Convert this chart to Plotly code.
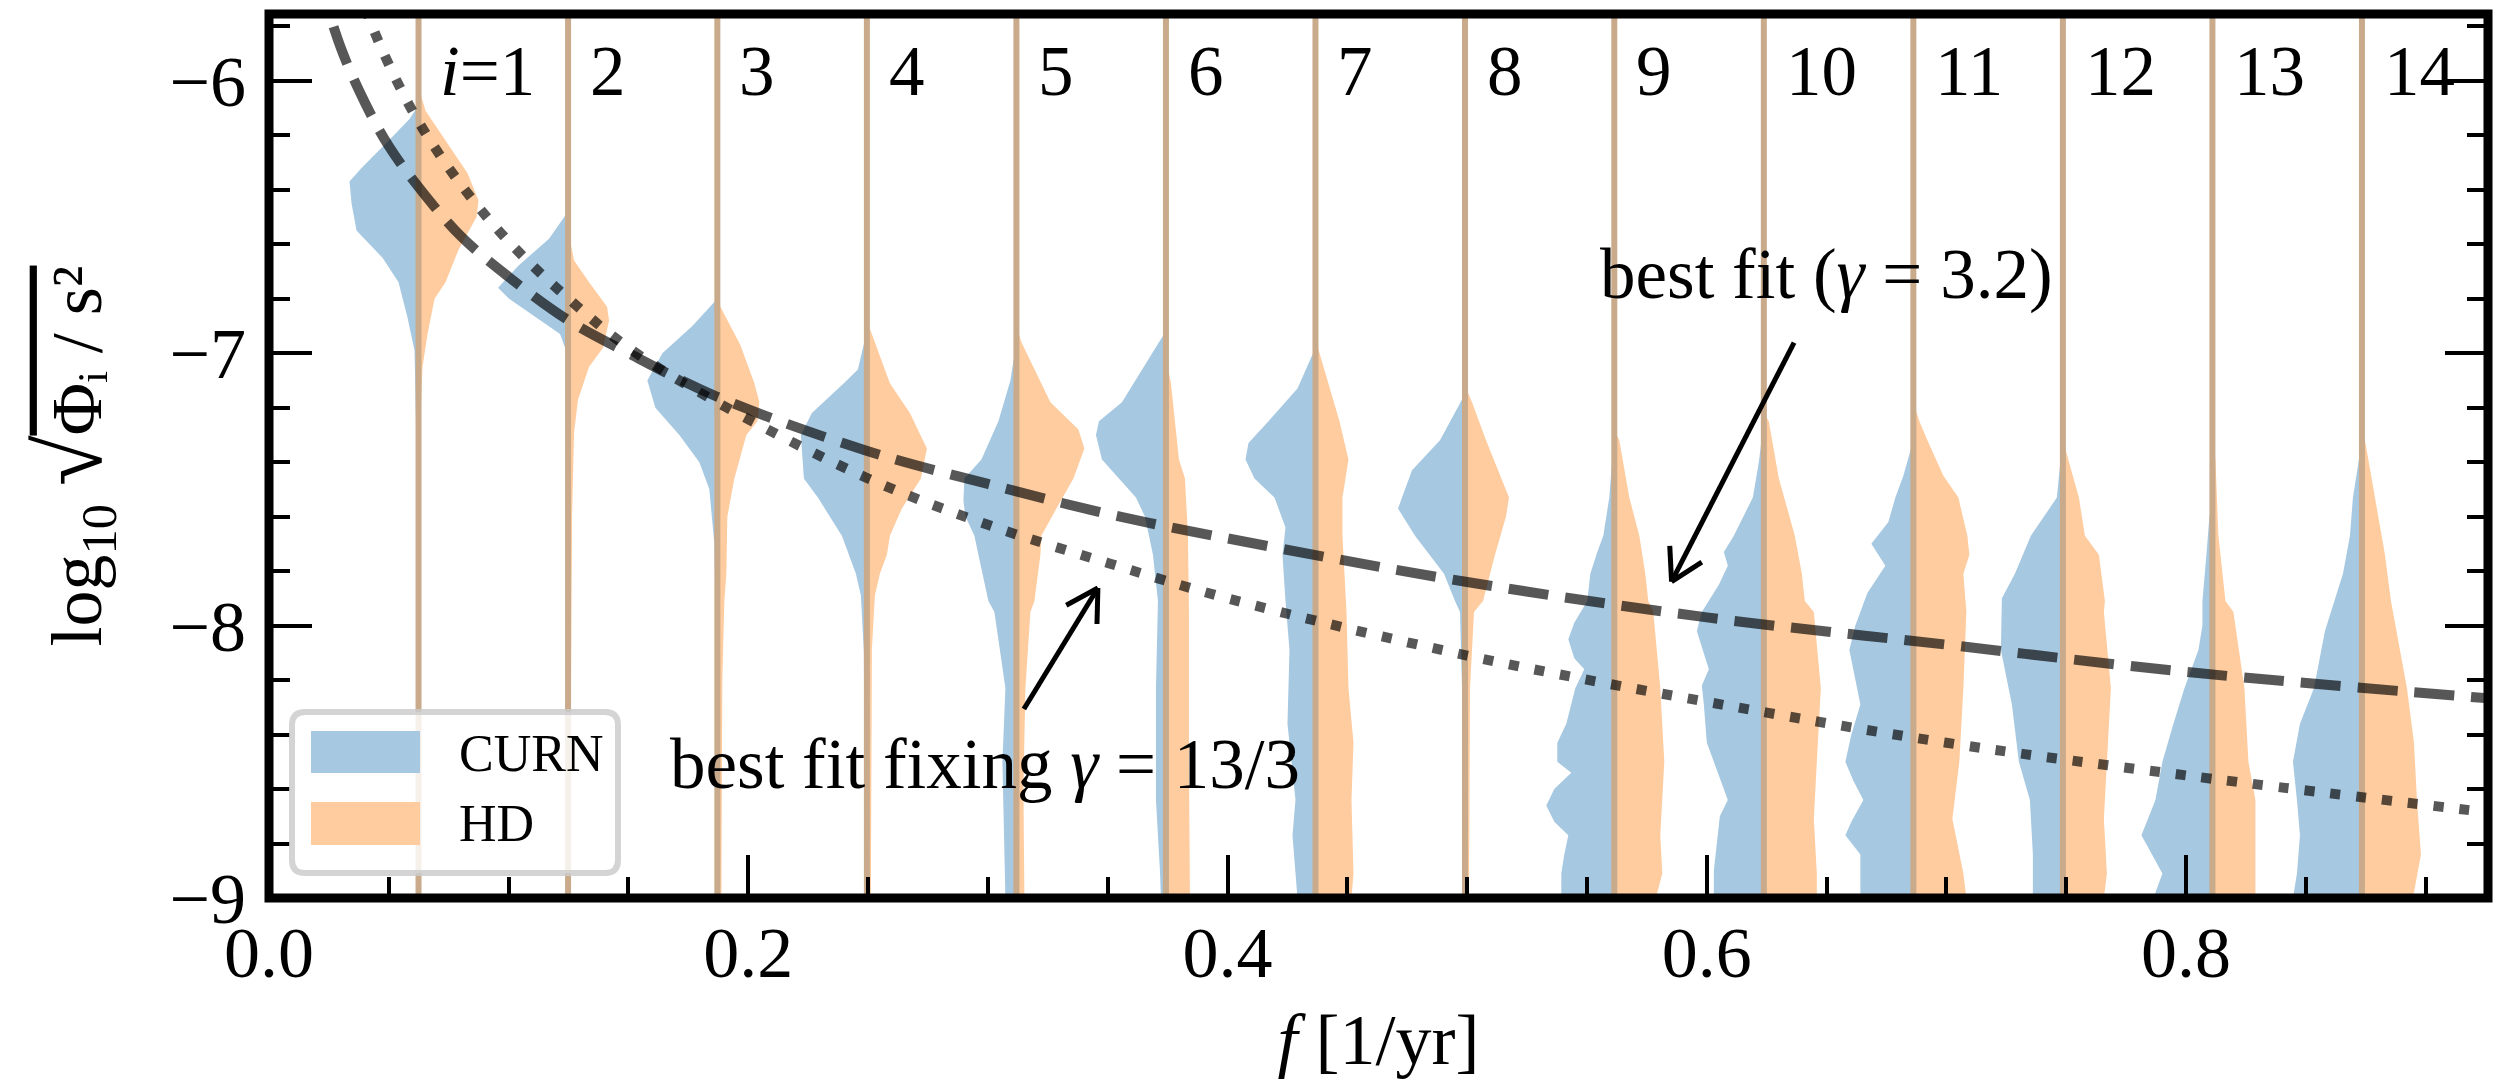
import math
import plotly.graph_objects as go

# ---------------- data ----------------
FREQ = [0.0624, 0.1248, 0.1871, 0.2495, 0.3119, 0.3743, 0.4367,
        0.4991, 0.5614, 0.6238, 0.6862, 0.7486, 0.8110, 0.8734]
HARMONIC_LABELS = ["<i>i</i>=1", "2", "3", "4", "5", "6", "7",
                   "8", "9", "10", "11", "12", "13", "14"]

# CURN posterior: log10 amplitude levels and relative density (violin half width)
CURN_LEVELS = [
    [-6.09, -6.14, -6.22, -6.32, -6.37, -6.45, -6.55, -6.65, -6.74, -6.87, -6.99, -7.35, -8.0, -9.0],
    [-6.48, -6.58, -6.68, -6.76, -6.80, -6.88, -6.93, -6.99, -7.3, -9.0],
    [-6.80, -6.90, -7.0, -7.1, -7.2, -7.3, -7.4, -7.5, -7.7, -8.0, -9.0],
    [-6.92, -7.06, -7.11, -7.22, -7.30, -7.46, -7.53, -7.67, -7.81, -7.89, -8.1, -9.0],
    [-6.96, -7.10, -7.25, -7.39, -7.46, -7.54, -7.60, -7.67, -7.74, -7.91, -7.95, -8.23, -8.5, -8.77, -9.0],
    [-6.92, -6.96, -7.18, -7.25, -7.30, -7.39, -7.53, -7.60, -7.74, -7.91, -8.23, -8.64, -8.9, -9.0],
    [-6.98, -7.13, -7.25, -7.33, -7.39, -7.46, -7.53, -7.64, -7.74, -7.91, -8.09, -8.36, -8.64, -8.77, -9.0],
    [-7.15, -7.32, -7.43, -7.57, -7.67, -7.81, -7.91, -7.95, -8.23, -9.0],
    [-7.29, -7.53, -7.67, -7.73, -7.81, -7.91, -7.99, -8.05, -8.12, -8.16, -8.23, -8.36, -8.43, -8.50,
     -8.54, -8.60, -8.66, -8.72, -8.77, -8.84, -8.91, -9.0],
    [-7.25, -7.40, -7.53, -7.67, -7.73, -7.78, -7.85, -7.95, -8.02, -8.10, -8.16, -8.22, -8.29, -8.43,
     -8.55, -8.64, -8.70, -8.77, -8.90, -9.0],
    [-7.32, -7.45, -7.53, -7.62, -7.70, -7.78, -7.88, -8.0, -8.09, -8.20, -8.29, -8.40, -8.50, -8.57,
     -8.64, -8.72, -8.77, -8.84, -8.98, -9.0],
    [-7.30, -7.53, -7.67, -7.81, -7.90, -8.09, -8.29, -8.50, -8.64, -8.84, -9.0],
    [-7.55, -7.60, -7.74, -7.91, -8.0, -8.09, -8.23, -8.36, -8.50, -8.64, -8.77, -8.91, -8.98, -9.0],
    [-7.32, -7.53, -7.67, -7.81, -8.02, -8.23, -8.36, -8.50, -8.64, -8.77, -8.91, -9.0],
]
CURN_DENSITY = [
    [0, 9, 30, 57, 69, 67, 62, 36, 20, 11, 4, 2, 1, 0.5],
    [0, 19, 50, 70, 59, 28, 8, 2, 1, 0.5],
    [0, 25, 55, 70, 62, 38, 18, 8, 3, 1.5, 1],
    [0, 9, 23, 55, 66, 63, 49, 25, 11, 6, 3, 2],
    [0, 6, 18, 35, 52, 53, 51, 42, 38, 28, 22, 11, 14, 12, 11],
    [0, 7, 44, 67, 70, 64, 30, 21, 13, 8, 10, 10, 6, 5],
    [0, 18, 47, 67, 70, 61, 41, 30, 33, 30, 26, 28, 20, 23, 18],
    [0, 25, 53, 67, 50, 21, 10, 5, 3, 3],
    [0, 5, 11, 17, 24, 27, 40, 46, 40, 30, 39, 48, 57, 57, 43, 60, 68, 60, 46, 50, 53, 53],
    [0, 5, 11, 30, 40, 36, 45, 62, 67, 60, 55, 62, 60, 57, 45, 36, 44, 46, 50, 50],
    [0, 10, 18, 25, 42, 28, 46, 58, 64, 58, 53, 62, 68, 60, 50, 62, 68, 53, 53, 53],
    [0, 6, 32, 48, 61, 62, 51, 44, 33, 30, 30],
    [0, 3, 6, 10, 10, 14, 28, 39, 50, 57, 71, 50, 57, 57],
    [0, 9, 12, 19, 37, 48, 62, 69, 65, 62, 65, 69],
]

# HD posterior
HD_LEVELS = [
    [-5.98, -6.05, -6.11, -6.22, -6.34, -6.44, -6.50, -6.62, -6.74, -6.80, -6.93, -7.05, -7.23, -7.6, -9.0],
    [-6.55, -6.66, -6.74, -6.83, -6.88, -6.98, -7.05, -7.17, -7.29, -7.6, -8.2, -9.0],
    [-6.78, -6.83, -6.97, -7.11, -7.18, -7.25, -7.30, -7.46, -7.60, -7.81, -7.91, -8.2, -9.0],
    [-6.88, -6.94, -7.11, -7.22, -7.35, -7.46, -7.57, -7.67, -7.74, -7.81, -7.89, -8.09, -9.0],
    [-6.90, -6.96, -7.18, -7.28, -7.35, -7.46, -7.57, -7.67, -7.74, -7.91, -7.95, -8.23, -8.6, -9.0],
    [-7.02, -7.11, -7.39, -7.46, -7.67, -7.95, -8.5, -9.0],
    [-6.95, -7.04, -7.25, -7.39, -7.53, -7.67, -7.95, -8.23, -8.43, -8.64, -8.91, -9.0],
    [-7.12, -7.18, -7.32, -7.46, -7.53, -7.60, -7.74, -7.91, -7.95, -8.23, -9.0],
    [-7.28, -7.32, -7.53, -7.67, -7.81, -7.91, -7.95, -8.23, -8.50, -8.77, -8.91, -8.98, -9.0],
    [-7.22, -7.25, -7.46, -7.67, -7.81, -7.91, -7.95, -8.23, -8.50, -8.71, -8.91, -9.0],
    [-7.18, -7.25, -7.32, -7.45, -7.53, -7.67, -7.74, -7.81, -7.95, -8.23, -8.50, -8.71, -8.80, -8.91, -9.0],
    [-7.32, -7.53, -7.67, -7.74, -7.91, -7.95, -8.23, -8.50, -8.71, -8.91, -9.0],
    [-7.35, -7.39, -7.67, -7.91, -7.95, -8.23, -8.50, -8.64, -8.77, -9.0],
    [-7.30, -7.32, -7.53, -7.74, -7.91, -7.95, -8.23, -8.43, -8.64, -8.84, -8.98, -9.0],
]
HD_DENSITY = [
    [0, 2, 7, 27, 49, 60, 58, 40, 27, 16, 9, 4, 2, 1.5, 1],
    [0, 6, 21, 39, 41, 35, 21, 10, 6, 4, 3, 2],
    [0, 3, 23, 37, 42, 40, 29, 17, 10, 9, 7, 5, 4],
    [0, 6, 23, 43, 60, 54, 35, 23, 20, 13, 8, 5, 4],
    [0, 5, 34, 62, 68, 57, 40, 25, 24, 18, 14, 9, 7, 8],
    [0, 5, 13, 19, 22, 23, 23, 24],
    [0, 7, 24, 33, 27, 27, 31, 33, 38, 36, 38, 36],
    [0, 7, 21, 36, 44, 41, 30, 18, 9, 5, 4],
    [0, 5, 15, 25, 31, 34, 39, 46, 50, 46, 48, 43, 40],
    [0, 5, 15, 31, 38, 41, 50, 57, 53, 50, 53, 53],
    [0, 6, 14, 30, 45, 54, 56, 50, 53, 50, 46, 39, 44, 50, 53],
    [0, 16, 22, 36, 42, 41, 48, 44, 41, 44, 41],
    [0, 3, 6, 13, 21, 32, 36, 43, 43, 43],
    [0, 3, 13, 23, 29, 31, 45, 52, 55, 59, 52, 50],
]

# best-fit power-law curves
FIT_F = [0.02, 0.03, 0.04, 0.05, 0.0624, 0.08, 0.1, 0.125, 0.15, 0.187,
         0.25, 0.3, 0.35, 0.4, 0.5, 0.6, 0.7, 0.8, 0.93]
FIT_GAMMA_FREE = [-5.60, -5.88, -6.08, -6.24, -6.39, -6.57, -6.72, -6.88, -7.00, -7.16,
                  -7.36, -7.48, -7.59, -7.68, -7.84, -7.97, -8.07, -8.17, -8.27]
FIT_F_FIXED = [0.03, 0.04, 0.05, 0.0624, 0.08, 0.1, 0.125, 0.15, 0.187,
               0.25, 0.3, 0.35, 0.4, 0.5, 0.6, 0.7, 0.8, 0.93]
FIT_GAMMA_FIXED = [-5.46, -5.73, -5.94, -6.15, -6.38, -6.59, -6.80, -6.98, -7.18,
                   -7.46, -7.63, -7.77, -7.90, -8.11, -8.28, -8.43, -8.55, -8.69]

SERIES_NAMES = ["CURN", "HD"]

# ---------------- styling ----------------
FONT = "Liberation Serif"
BLUE = "#a6c8e1"
ORANGE = "#fecc9f"
VLINE = "#c9aa8b"
CURVE = "rgba(0,0,0,0.66)"
X_RANGE = [0.0, 0.926]
Y_RANGE = [-9.0, -5.755]
W, H = 2515, 1086
ML, MR, MT, MB = 269, 27, 14, 188
PX_PER_X = (W - ML - MR) / (X_RANGE[1] - X_RANGE[0])
PX_PER_Y = (H - MT - MB) / (Y_RANGE[1] - Y_RANGE[0])
DENS_TO_X = 1.0 / PX_PER_X  # one density unit == one pixel of half width

fig = go.Figure()

# violins (left half CURN, right half HD)
for k, f in enumerate(FREQ):
    for levels, dens, sign, col in ((CURN_LEVELS[k], CURN_DENSITY[k], -1, BLUE),
                                    (HD_LEVELS[k], HD_DENSITY[k], 1, ORANGE)):
        xs = [f + sign * d * DENS_TO_X for d in dens] + [f, f]
        ys = list(levels) + [levels[-1], levels[0]]
        fig.add_trace(go.Scatter(x=xs, y=ys, mode="lines", fill="toself",
                                 fillcolor=col, line=dict(width=0, color=col),
                                 hoverinfo="skip", showlegend=False))

# vertical frequency lines
vx, vy = [], []
for f in FREQ:
    vx += [f, f, None]
    vy += [Y_RANGE[0], Y_RANGE[1], None]
fig.add_trace(go.Scatter(x=vx, y=vy, mode="lines",
                         line=dict(color=VLINE, width=6),
                         hoverinfo="skip", showlegend=False))

# best-fit curves
fig.add_trace(go.Scatter(x=FIT_F, y=FIT_GAMMA_FREE, mode="lines",
                         line=dict(color=CURVE, width=10, dash="40px,17px", shape="spline"),
                         hoverinfo="skip", showlegend=False))
fig.add_trace(go.Scatter(x=FIT_F_FIXED, y=FIT_GAMMA_FIXED, mode="lines",
                         line=dict(color=CURVE, width=10, dash="10px,16px", shape="spline"),
                         hoverinfo="skip", showlegend=False))

annotations = []
shapes = []
# harmonic labels
for f, lab in zip(FREQ, HARMONIC_LABELS):
    annotations.append(dict(x=f + 0.0083, y=-5.963, xref="x", yref="y", text=lab,
                            showarrow=False, xanchor="left", yanchor="middle",
                            font=dict(size=71, family=FONT, color="black")))

annotations.append(dict(x=0.6501, y=-6.711, xref="x", yref="y",
                        text="best fit (<i>γ</i> = 3.2)", showarrow=False,
                        xanchor="center", yanchor="middle",
                        font=dict(size=71, family=FONT, color="black")))
annotations.append(dict(x=0.2988, y=-8.508, xref="x", yref="y",
                        text="best fit fixing <i>γ</i> = 13/3", showarrow=False,
                        xanchor="center", yanchor="middle",
                        font=dict(size=71, family=FONT, color="black")))


def arrow(tip_x, tip_y, tail_dx, tail_dy, barb=36, ang=30):
    """shaft + open head, offsets given in screen pixels (y down)"""
    segs = [(tail_dx, tail_dy)]
    a0 = math.atan2(tail_dy, tail_dx)
    for s in (-1, 1):
        a = a0 + s * math.radians(ang)
        segs.append((barb * math.cos(a), barb * math.sin(a)))
    out = []
    for dx, dy in segs:
        out.append(dict(type="line", xref="x", yref="y", x0=tip_x, y0=tip_y,
                        x1=tip_x + dx / PX_PER_X, y1=tip_y - dy / PX_PER_Y,
                        line=dict(color="black", width=5), layer="above"))
    return out


shapes += arrow(0.5853, -7.839, 122.5, -239.2)
shapes += arrow(0.3459, -7.862, -74, 121)


# manual legend
def px2paper(px, py):
    return (px - ML) / (W - ML - MR), (H - MB - py) / (H - MT - MB)


x0, y0 = px2paper(292, 873)
x1, y1 = px2paper(618, 712)
rx, ry = 13 / (W - ML - MR), 13 / (H - MT - MB)
legend_path = (f"M {x0+rx},{y0} L {x1-rx},{y0} Q {x1},{y0} {x1},{y0+ry} "
               f"L {x1},{y1-ry} Q {x1},{y1} {x1-rx},{y1} L {x0+rx},{y1} "
               f"Q {x0},{y1} {x0},{y1-ry} L {x0},{y0+ry} Q {x0},{y0} {x0+rx},{y0} Z")
shapes.append(dict(type="path", path=legend_path, xref="paper", yref="paper",
                   fillcolor="rgba(255,255,255,0.82)",
                   line=dict(color="rgba(204,204,204,0.85)", width=6), layer="above"))
for (py0, py1), col, name, pyc in (((731, 773), BLUE, SERIES_NAMES[0], 753),
                                   ((802, 845), ORANGE, SERIES_NAMES[1], 823)):
    a0, b0 = px2paper(311, py1)
    a1, b1 = px2paper(420, py0)
    shapes.append(dict(type="rect", xref="paper", yref="paper", x0=a0, x1=a1, y0=b0, y1=b1,
                       fillcolor=col, line=dict(width=0), layer="above"))
    tx, ty = px2paper(457, pyc)
    annotations.append(dict(x=tx, y=ty, xref="paper", yref="paper", text=name,
                            showarrow=False, xanchor="left", yanchor="middle",
                            font=dict(size=52, family=FONT, color="black")))

# frame (spines centred on the data edges)
shapes.append(dict(type="rect", xref="paper", yref="paper", x0=0, x1=1, y0=0, y1=1,
                   line=dict(color="black", width=9), fillcolor="rgba(0,0,0,0)", layer="above"))

YTITLE = ("log<sub>10</sub> <span style='font-size:92px'>√</span>"
          "<span style='text-decoration:overline'>Φᵢ / s²</span>")

fig.update_layout(
    width=W, height=H, autosize=False,
    margin=dict(l=ML, r=MR, t=MT, b=MB, pad=0),
    paper_bgcolor="white", plot_bgcolor="white",
    font=dict(family=FONT, color="black", size=72),
    showlegend=False,
    annotations=annotations, shapes=shapes,
    xaxis=dict(range=X_RANGE, tick0=0, dtick=0.2, tickformat=".1f",
               ticks="inside", ticklen=43, tickwidth=4, tickcolor="black",
               showline=False, mirror=False, showgrid=False, zeroline=False,
               tickfont=dict(size=72, family=FONT), ticklabelstandoff=6,
               minor=dict(dtick=0.05, tick0=0, ticks="inside", ticklen=21,
                          tickwidth=4, tickcolor="black", showgrid=False),
               title=dict(text="<i>f</i> [1/yr]", font=dict(size=72, family=FONT), standoff=21)),
    yaxis=dict(range=Y_RANGE, tick0=-9, dtick=1,
               ticks="inside", ticklen=43, tickwidth=4, tickcolor="black",
               showline=False, mirror="ticks", showgrid=False, zeroline=False,
               tickfont=dict(size=72, family=FONT), ticklabelstandoff=22,
               minor=dict(dtick=0.2, tick0=-9, ticks="inside", ticklen=21,
                          tickwidth=4, tickcolor="black", showgrid=False),
               title=dict(text=YTITLE, font=dict(size=72, family=FONT), standoff=44)),
)

fig.write_html("out.html", config={"displayModeBar": False},
               post_script="document.body.style.margin='0';document.body.style.overflow='hidden';")
